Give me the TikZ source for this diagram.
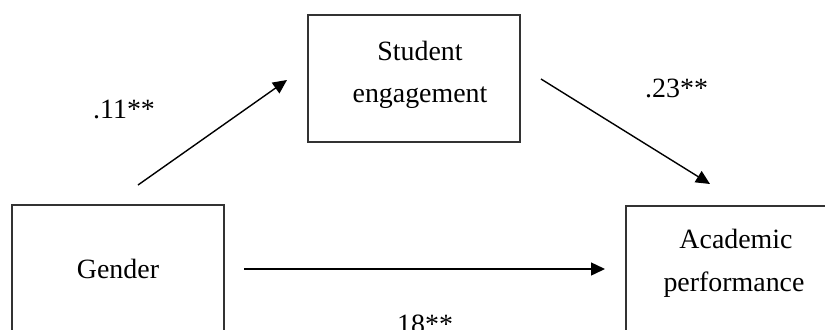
\documentclass[tikz,border=0pt]{standalone}
\usepackage{fontspec}
\setmainfont{Liberation Serif}
\usetikzlibrary{arrows.meta}
\begin{document}
\begin{tikzpicture}[x=1bp,y=-1bp,
  box/.style={draw=black!80, line width=1.5bp, minimum width=212bp, minimum height=127bp, inner sep=0pt},
  txt/.style={inner sep=0pt, font=\fontsize{28}{43}\selectfont, align=center},
  lbl/.style={inner sep=0pt, font=\fontsize{28}{34}\selectfont, anchor=base west},
  arr/.style={line width=1.4bp, -{Triangle[length=14bp,width=13bp]}}]
\useasboundingbox (0,0) rectangle (825,329);
\fill[white] (0,0) rectangle (825,329);
% boxes
\node[box] (gender) at (118,268.5) {};
\node[box] (engage) at (414,78.5) {};
\node[box] (perf) at (732,269.5) {};
% texts
\node[txt, anchor=base] (tg) at (118,278) {Gender};
\node[txt, anchor=base] (te1) at (420,60) {Student};
\node[txt, anchor=base] (te2) at (420,102) {engagement};
\node[txt, anchor=base] (tp1) at (736,248) {Academic};
\node[txt, anchor=base] (tp2) at (734,291) {performance};
% connector ends
\coordinate (a1s) at (138,185);
\coordinate (a1e) at (287,80);
\coordinate (a2s) at (541,79);
\coordinate (a2e) at (710,184);
\coordinate (a3s) at (244,269);
\coordinate (a3e) at (605,269);
\draw[arr] (a1s) -- (a1e);
\draw[arr] (a2s) -- (a2e);
\draw[arr] (a3s) -- (a3e);
% labels
\node[lbl] (l1) at (93,118) {.11**};
\node[lbl] (l2) at (645,97) {.23**};
\node[lbl] (l3) at (390,333) {.18**};
\end{tikzpicture}
\end{document}
